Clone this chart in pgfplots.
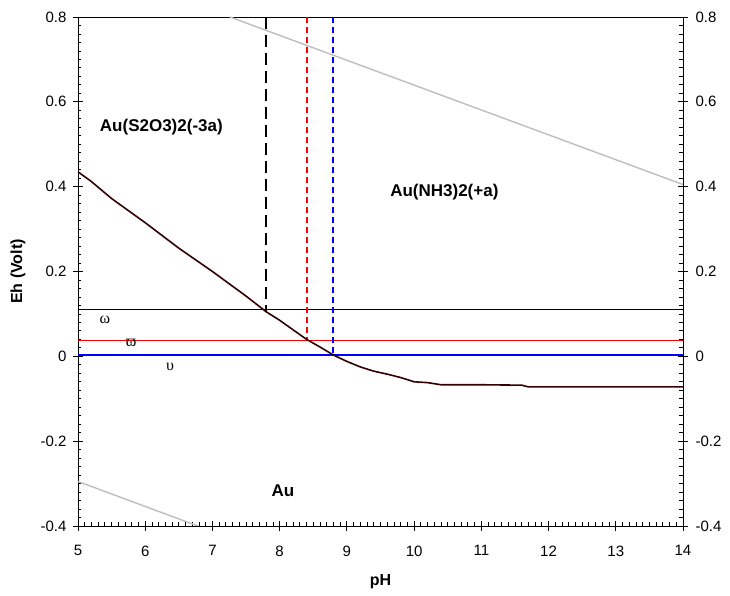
\documentclass[border=0pt]{standalone}
\usepackage{fontspec}
\setmainfont{Liberation Sans}
\newfontfamily\symfont{Liberation Serif}
\usepackage{pgfplots}
\pgfplotsset{compat=1.18}
\definecolor{curvec}{RGB}{50,0,0}
\definecolor{lgray}{RGB}{190,190,190}
\definecolor{pureblue}{RGB}{0,0,255}
\definecolor{purered}{RGB}{255,0,0}
\begin{document}
\begin{tikzpicture}
\useasboundingbox (-78pt,-70pt) rectangle (652pt,526pt);
\begin{axis}[
  at={(0,0)}, anchor=south west,
  scale only axis, width=605pt, height=509pt,
  xmin=5, xmax=14, ymin=-0.4, ymax=0.8,
  xtick={5,6,...,14}, ytick={-0.4,-0.2,0,0.2,0.4,0.6,0.8},
  yticklabels={-0.4,-0.2,0,0.2,0.4,0.6,0.8},
  minor x tick num=9, minor y tick num=9,
  xtick pos=bottom, ytick pos=both,
  tick align=inside, major tick length=5pt, minor tick length=3.5pt,
  extra x ticks={5,6,...,14}, extra x tick labels={},
  extra y ticks={-0.4,-0.2,0,0.2,0.4,0.6,0.8}, extra y tick labels={},
  extra tick style={tick align=outside, major tick length=5pt},
  axis line style={line width=0.9pt},
  tick style={line width=0.8pt, black},
  /pgf/number format/assume math mode=true,
  ticklabel style={font=\fontsize{15}{18}\selectfont},
  xticklabel style={yshift=-16pt},
  yticklabel style={xshift=-8pt},
  xlabel={pH}, ylabel={Eh (Volt)},
  label style={font=\bfseries\fontsize{16}{19}\selectfont},
  xlabel style={at={(axis description cs:0.5,-0.110)}, anchor=center},
  ylabel style={at={(axis description cs:-0.099,0.5)}, anchor=center},
]
% water stability lines
\addplot[lgray, line width=1.4pt] coordinates {(7.26,0.8) (14,0.405)};
\addplot[lgray, line width=1.4pt] coordinates {(5,-0.295) (6.8,-0.401)};
% horizontal lines
\addplot[black, line width=1.2pt] coordinates {(5,0.11) (14,0.11)};
\addplot[purered, line width=1.4pt] coordinates {(5,0.038) (14,0.038)};
\addplot[pureblue, line width=1.6pt] coordinates {(5,0.003) (14,0.003)};
% vertical dashed lines
\addplot[black, line width=1.8pt, dash pattern=on 12pt off 6pt] coordinates {(7.8,0.8) (7.8,0.108)};
\addplot[purered, line width=2pt, dash pattern=on 6pt off 4pt] coordinates {(8.4,0.8) (8.4,0.038)};
\addplot[pureblue, line width=2pt, dash pattern=on 6pt off 4pt] coordinates {(8.8,0.8) (8.8,0.003)};
% boundary curve
\addplot[curvec, line width=1.6pt] coordinates {
(5.0,0.435) (5.2,0.412) (5.5,0.372) (6.0,0.315) (6.5,0.255) (7.0,0.200)
(7.5,0.142) (7.8,0.105) (8.0,0.085) (8.4,0.040) (8.6,0.022) (8.8,0.003)
(9.0,-0.012) (9.2,-0.025) (9.4,-0.035) (9.6,-0.042) (9.8,-0.050)
(10.0,-0.060) (10.2,-0.062) (10.4,-0.067) (10.6,-0.067) (11.0,-0.067)
(11.6,-0.068) (11.7,-0.072) (14,-0.072)};
% labels
\node[font=\bfseries\fontsize{17}{20}\selectfont] at (axis cs:6.24,0.541) {Au(S2O3)2(-3a)};
\node[font=\bfseries\fontsize{17}{20}\selectfont] at (axis cs:10.45,0.387) {Au(NH3)2(+a)};
\node[font=\bfseries\fontsize{17}{20}\selectfont] at (axis cs:8.05,-0.316) {Au};
\node[font=\symfont\fontsize{16}{18}\selectfont] at (axis cs:5.4,0.085) {ω};
\node[font=\symfont\fontsize{16}{18}\selectfont] at (axis cs:5.79,0.031) {ϖ};
\node[font=\symfont\fontsize{16}{18}\selectfont] at (axis cs:6.37,-0.025) {υ};
\end{axis}
\begin{axis}[
  at={(0,0)}, anchor=south west,
  scale only axis, width=605pt, height=509pt,
  xmin=5, xmax=14, ymin=-0.4, ymax=0.8,
  hide x axis, axis line style={draw=none},
  ytick={-0.4,-0.2,0,0.2,0.4,0.6,0.8},
  yticklabels={-0.4,-0.2,0,0.2,0.4,0.6,0.8},
  yticklabel pos=right, ytick style={draw=none},
  /pgf/number format/assume math mode=true,
  ticklabel style={font=\fontsize{15}{18}\selectfont},
  yticklabel style={xshift=9pt},
]
\addplot[draw=none] coordinates {(5,0) (14,0)};
\end{axis}
\end{tikzpicture}
\end{document}
